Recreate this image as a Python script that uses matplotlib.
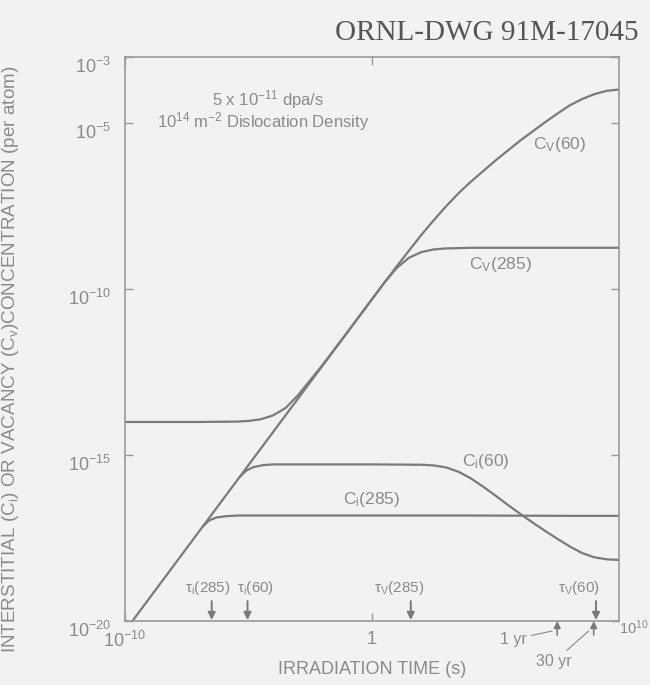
import matplotlib
matplotlib.use('Agg')
import matplotlib.pyplot as plt
import numpy as np
from matplotlib.transforms import ScaledTranslation

plt.rcParams['font.family'] = ['Liberation Sans', 'DejaVu Sans']
plt.rcParams['mathtext.fontset'] = 'custom'
plt.rcParams['mathtext.rm'] = 'Liberation Sans'
plt.rcParams['mathtext.it'] = 'Liberation Sans:italic'
plt.rcParams['mathtext.default'] = 'regular'

# log10 of time (s) and of concentration (per atom)
cv60_t = [-9.7, -8, -6, -4, -2, 0, 1, 2, 2.5, 3, 3.5, 4, 5, 6, 7, 7.5, 8, 8.5, 9, 9.5, 10]
cv60_c = [-20, -18.3, -16.3, -14.3, -12.3, -10.3, -9.31, -8.36, -7.92, -7.5, -7.11, -6.76,
          -6.12, -5.52, -4.97, -4.71, -4.46, -4.27, -4.12, -4.02, -3.98]
cv285_t = [-10, -7, -5.5, -5, -4.5, -4, -3.5, -3, -2, -1, 0, 0.5, 1, 1.5, 2, 2.5, 3, 4, 6, 8, 10]
cv285_c = [-14.0, -14.0, -13.99, -13.97, -13.92, -13.8, -13.58, -13.2, -12.28, -11.3, -10.3,
           -9.8, -9.36, -9.05, -8.88, -8.8, -8.77, -8.75, -8.75, -8.75, -8.75]
ci60_t = [-5.35, -5.1, -4.8, -4.4, -4.0, -2, 0, 2, 2.5, 3, 3.5, 4, 4.5, 5, 5.5, 6, 6.5, 7,
          7.5, 8, 8.5, 9, 9.5, 10]
ci60_c = [-15.65, -15.47, -15.36, -15.3, -15.28, -15.28, -15.28, -15.29, -15.31, -15.37,
          -15.5, -15.7, -15.95, -16.22, -16.5, -16.77, -17.03, -17.28, -17.52, -17.75,
          -17.95, -18.08, -18.14, -18.16]
ci285_t = [-6.85, -6.6, -6.3, -5.9, -5.4, -4, 0, 4, 8, 10]
ci285_c = [-17.15, -16.97, -16.88, -16.84, -16.82, -16.82, -16.82, -16.82, -16.83, -16.83]

curve_labels = [r'C$_V$(60)', r'C$_V$(285)', r'C$_i$(60)', r'C$_i$(285)']

tau_t = [-6.49, -5.04, 1.57, 9.07]
tau_labels = [r'$\tau_i$(285)', r'$\tau_i$(60)', r'$\tau_V$(285)', r'$\tau_V$(60)']
year_s = [3.156e7, 9.467e8]
year_labels = ['1 yr', '30 yr']

ytick_exp = [-3, -5, -10, -15, -20]
xtick_exp = [-10, 0]

line_c = '#7a7a7a'
text_c = '#8a8a8a'
bg = '#f2f2f0'

fig = plt.figure(figsize=(6.5, 6.85), dpi=100, facecolor=bg)
ax = fig.add_axes([0.1923, 0.0934, 0.76, 0.8234])
ax.set_facecolor(bg)
ax.set_xscale('log')
ax.set_yscale('log')
ax.set_xlim(1e-10, 1e10)
ax.set_ylim(1e-20, 1e-3)

def p(a):
    return 10.0 ** np.asarray(a)

for t, c in [(cv60_t, cv60_c), (cv285_t, cv285_c), (ci60_t, ci60_c), (ci285_t, ci285_c)]:
    ax.plot(p(t), p(c), color=line_c, lw=1.6, solid_capstyle='round')

for s in ax.spines.values():
    s.set_color('#9a9a9a')
    s.set_linewidth(1.2)

ax.minorticks_off()
ax.set_yticks(p(ytick_exp))
ax.set_yticklabels([r'$10^{%d}$' % e for e in ytick_exp])
ax.set_xticks(p(xtick_exp))
ax.set_xticklabels([r'$10^{-10}$', '1'])
ax.tick_params(direction='in', top=True, right=True, length=6, width=1,
               color='#9a9a9a', labelcolor=text_c, labelsize=13)
ax.tick_params(axis='y', pad=10)
ax.tick_params(axis='x', pad=7)
for lab in ax.get_yticklabels():
    lab.set_transform(lab.get_transform() + ScaledTranslation(0, -0.08, fig.dpi_scale_trans))
ax.annotate(r'$10^{10}$', xy=(1e10, 1e-20), xytext=(0, 2), textcoords='offset points',
            ha='left', va='top', color=text_c, fontsize=10.5, annotation_clip=False)

ax.set_xlabel('IRRADIATION TIME (s)', color=text_c, fontsize=13)
ax.xaxis.set_label_coords(0.5, -0.07)
ax.set_ylabel(r'INTERSTITIAL (C$_i$) OR VACANCY (C$_v$)CONCENTRATION (per atom)',
              color=text_c, fontsize=13.6)
ax.yaxis.set_label_coords(-0.21, 0.465)

ax.text(0.29, 0.925, r'5 x 10$^{-11}$ dpa/s', transform=ax.transAxes, ha='center',
        va='center', color=text_c, fontsize=12)
ax.text(0.28, 0.886, r'10$^{14}$ m$^{-2}$ Dislocation Density', transform=ax.transAxes,
        ha='center', va='center', color=text_c, fontsize=12)

# curve names
label_pos = [(4e7, 10 ** -5.65), (1.6e5, 10 ** -9.25), (4e4, 10 ** -15.2), (1e0, 10 ** -16.35)]
for (x, y), s in zip(label_pos, curve_labels):
    ax.text(x, y, s, ha='center', va='center', color=text_c, fontsize=12.5)

# characteristic times
tau_dx = [-3, 6, -8, -12]
for t, s, dx in zip(tau_t, tau_labels, tau_dx):
    ax.annotate('', xy=(10 ** t, 10 ** -19.97), xytext=(10 ** t, 10 ** -19.4),
                arrowprops=dict(arrowstyle='-|>', color=line_c, lw=1.4, mutation_scale=11,
                                shrinkA=0, shrinkB=0))
    ax.annotate(s, xy=(10 ** t, 10 ** -19.0), xytext=(dx, 0), textcoords='offset points',
                ha='center', va='center', color=text_c, fontsize=11)

# 1 and 30 year marks below the time axis
year_off = [(-18, -6), (-12, -22)]
for t, s, off in zip(year_s, year_labels, year_off):
    ax.annotate('', xy=(t, 10 ** -20.0), xytext=(t, 10 ** -20.42), annotation_clip=False,
                arrowprops=dict(arrowstyle='-|>', color=line_c, lw=1.2, mutation_scale=10,
                                shrinkA=0, shrinkB=0))
    ax.annotate(s, xy=(t / 1.6, 10 ** -20.3), xytext=off, textcoords='offset points',
                ha='right', va='center', color=text_c, fontsize=11.5, annotation_clip=False,
                arrowprops=dict(arrowstyle='-', color=line_c, lw=0.7, shrinkA=1, shrinkB=0))

fig.text(0.982, 0.952, 'ORNL-DWG 91M-17045', ha='right', va='center', color='#555555',
         fontsize=21, family='Liberation Serif')

fig.savefig('out.png', dpi=100, facecolor=bg)
